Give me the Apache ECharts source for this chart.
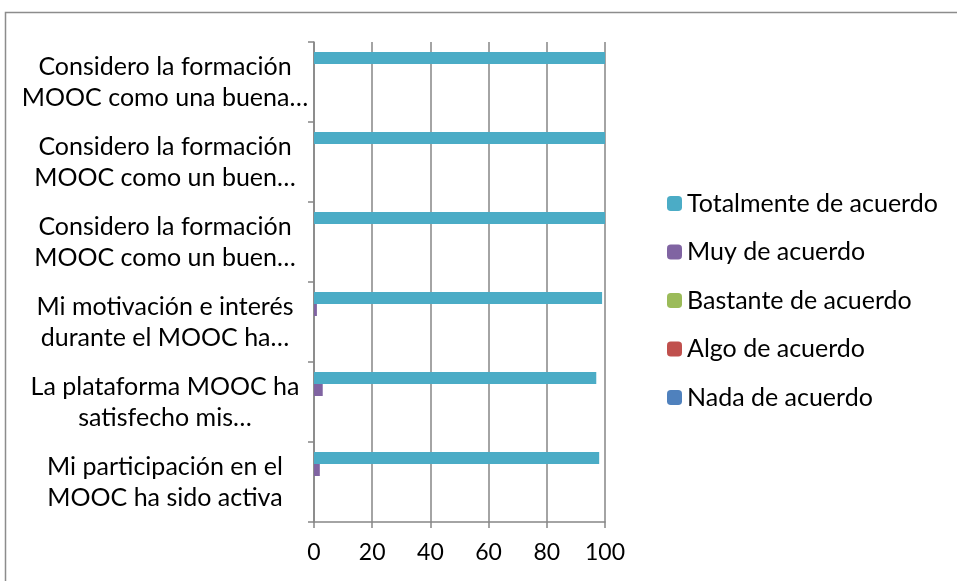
<!DOCTYPE html>
<html>
<head>
<meta charset="utf-8">
<script src="https://cdn.jsdelivr.net/npm/echarts@6/dist/echarts.min.js"></script>
<style>
html, body { margin: 0; padding: 0; background: #fff; }
#chart { width: 957px; height: 581px; }
</style>
</head>
<body>
<div id="chart"></div>
<script>
// categories, bottom to top
var categories = [
	'Mi participación en el\nMOOC ha sido activa',
	'La plataforma MOOC ha\nsatisfecho mis…',
	'Mi motivación e interés\ndurante el MOOC ha…',
	'Considero la formación\nMOOC como un buen…',
	'Considero la formación\nMOOC como un buen…',
	'Considero la formación\nMOOC como una buena…'
];
var nada = [0, 0, 0, 0, 0, 0];
var algo = [0, 0, 0, 0, 0, 0];
var bastante = [0, 0, 0, 0, 0, 0];
var muy = [2, 3, 1, 0, 0, 0];
var totalmente = [98, 97, 99, 100, 100, 100];
var xTicks = [0, 20, 40, 60, 80, 100];

var font = 'Lato, "Open Sans", sans-serif';

function bar(name, data, color) {
	return {
		name: name,
		type: 'bar',
		data: data,
		barWidth: 12,
		barGap: '0%',
		itemStyle: { color: color },
		silent: true
	};
}

var chart = echarts.init(document.getElementById('chart'));
chart.setOption({
	animation: false,
	textStyle: { fontFamily: font },
	graphic: [{
		type: 'rect',
		shape: { x: 5.5, y: 12.5, width: 1000, height: 1000 },
		style: { fill: 'none', stroke: '#8c8c8c', lineWidth: 1.5 },
		silent: true
	}],
	grid: { left: 314, right: 352, top: 42, bottom: 59 },
	legend: {
		orient: 'vertical',
		left: 662,
		top: 186,
		itemWidth: 15,
		itemHeight: 15,
		itemGap: 23.5,
		selectedMode: false,
		data: ['Totalmente de acuerdo', 'Muy de acuerdo', 'Bastante de acuerdo', 'Algo de acuerdo', 'Nada de acuerdo'],
		textStyle: { fontSize: 25, lineHeight: 25, color: '#000', fontFamily: font }
	},
	xAxis: {
		type: 'value',
		min: xTicks[0],
		max: xTicks[xTicks.length - 1],
		interval: 20,
		axisLine: { show: true, lineStyle: { color: '#868686', width: 1.5 } },
		axisTick: { show: true, length: 6, lineStyle: { color: '#868686', width: 1.5 } },
		splitLine: { show: true, lineStyle: { color: '#868686', width: 1.5 } },
		axisLabel: { fontSize: 23, color: '#000', margin: 19, fontFamily: font }
	},
	yAxis: {
		type: 'category',
		data: categories,
		axisLine: { show: true, lineStyle: { color: '#868686', width: 1.5 } },
		axisTick: { show: true, length: 6, lineStyle: { color: '#868686', width: 1.5 } },
		splitLine: { show: false },
		axisLabel: {
			fontSize: 25,
			color: '#000',
			margin: 149,
			lineHeight: 31,
			align: 'center',
			fontFamily: font
		}
	},
	series: [
		bar('Totalmente de acuerdo', totalmente, '#4BACC6'),
		bar('Muy de acuerdo', muy, '#8064A2'),
		bar('Bastante de acuerdo', bastante, '#9BBB59'),
		bar('Algo de acuerdo', algo, '#C0504D'),
		bar('Nada de acuerdo', nada, '#4F81BD')
	]
});
</script>
</body>
</html>
